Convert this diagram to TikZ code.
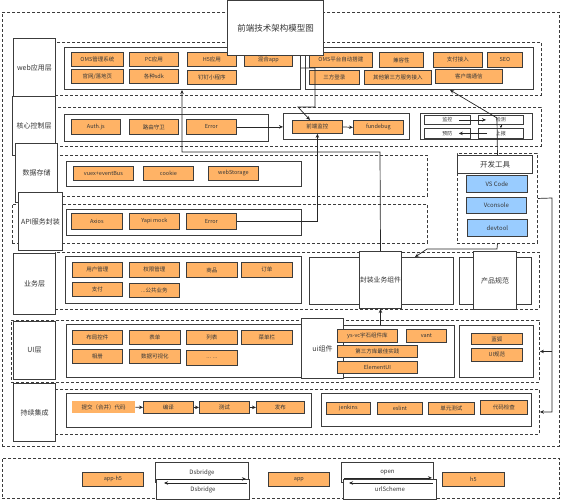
\documentclass[tikz,border=0pt]{standalone}
\usepackage{fontspec}
\setmainfont{Noto Sans CJK SC}
\usetikzlibrary{arrows.meta,calc}
\definecolor{orgc}{RGB}{255,179,102}
\definecolor{bluc}{RGB}{153,204,255}
\definecolor{txt}{RGB}{55,55,55}
\definecolor{edge}{RGB}{60,60,60}
\newcommand\mybox[7]{\node[#1,anchor=north west,minimum width={#5-#3},minimum height={#6-#4}] (#2) at (#3,#4) {#7};}
\tikzset{
 lay/.style={draw=edge, line width=0.9pt, dash pattern=on 3pt off 2pt, inner sep=0pt},
 inbox/.style={draw=edge, line width=1pt, fill=white, inner sep=0pt},
 lbl/.style={draw=edge, line width=1pt, fill=white, inner sep=0pt, font=\fontsize{7}{8}\selectfont, text=txt},
 ttl/.style={draw=edge, line width=1pt, fill=white, inner sep=0pt, font=\fontsize{8.5}{10}\selectfont, text=txt},
 org/.style={draw=edge, line width=0.8pt, fill=orgc, inner sep=0pt, font=\fontsize{5.5}{6.5}\selectfont, text=txt},
 orgn/.style={fill=orgc, inner sep=0pt, font=\fontsize{5.5}{6.5}\selectfont, text=txt},
 blu/.style={draw=edge, line width=0.8pt, fill=bluc, inner sep=0pt, font=\fontsize{6}{7}\selectfont, text=txt},
 wsm/.style={draw=edge, line width=0.8pt, fill=white, inner sep=0pt, font=\fontsize{5}{6}\selectfont, text=txt},
 wbr/.style={draw=edge, line width=0.9pt, fill=white, inner sep=0pt, font=\fontsize{6}{7}\selectfont, text=txt},
 conn/.style={draw=black!85, line width=0.7pt},
 arr/.style={conn, -{Stealth[length=4pt,width=3.5pt]}},
}
\begin{document}
\begin{tikzpicture}[x=1pt,y=-1pt]
\useasboundingbox (0,0) rectangle (561,500);
% outer frames
\mybox{lay}{outer}{2}{12}{559}{446}{}
\mybox{lay}{Lbot}{2}{458}{559}{498}{}
% layer frames
\mybox{lay}{Lweb}{55}{42}{541}{95}{}
\mybox{lay}{Lcore}{55}{107}{541}{146}{}
\mybox{lay}{Ldata}{57}{155}{427}{196}{}
\mybox{lay}{Lapi}{12}{204}{427}{243}{}
\mybox{lay}{Lyw}{55}{252}{539}{309}{}
\mybox{lay}{Lui}{11}{320}{539}{382}{}
\mybox{lay}{Lci}{55}{389}{539}{434}{}
% row labels
\mybox{lbl}{lweb}{13}{38}{55}{96}{web应用层}
\mybox{lbl}{lcore}{12}{96}{55}{155}{核心控制层}
\mybox{lbl}{ldata}{15}{143}{57}{202}{数据存储}
\mybox{lbl}{lapi}{18}{192}{62}{250}{API服务封装}
\mybox{lbl}{lyw}{13}{253}{55}{314}{业务层}
\mybox{lbl}{lui}{13}{321}{55}{379}{UI层}
\mybox{lbl}{lci}{13}{383}{55}{441}{持续集成}
% web layer
\mybox{inbox}{wL}{64}{47}{300}{89}{}
\mybox{inbox}{wR}{305}{47}{533}{89}{}
\mybox{org}{w1}{71}{52}{123}{66}{OMS管理系统}
\mybox{org}{w2}{129}{52}{178}{66}{PC应用}
\mybox{org}{w3}{187}{52}{236}{66}{H5应用}
\mybox{org}{w4}{244}{52}{292}{66}{混合app}
\mybox{org}{w5}{71}{69}{123}{83}{官网/落地页}
\mybox{org}{w6}{129}{69}{178}{83}{各种sdk}
\mybox{org}{w7}{187}{70}{236}{84}{钉钉小程序}
\mybox{org}{w8}{309}{52}{372}{67}{OMS平台自动搭建}
\mybox{org}{w9}{379}{52}{423}{67}{兼容性}
\mybox{org}{w10}{433}{52}{482}{67}{支付接入}
\mybox{org}{w11}{487}{52}{522}{67}{SEO}
\mybox{org}{w12}{309}{70}{359}{84}{三方登录}
\mybox{org}{w13}{364}{70}{431}{84}{其他第三方服务接入}
\mybox{org}{khd}{435}{69}{502}{83}{客户端通信}
% core layer
\mybox{inbox}{cL}{64}{114}{268}{141}{}
\mybox{org}{auth}{71}{119}{120}{134}{Auth.js}
\mybox{org}{lys}{129}{119}{178}{134}{路由守卫}
\mybox{org}{cerr}{186}{119}{236}{134}{Error}
\mybox{inbox}{cM}{283}{113}{409}{139}{}
\mybox{org}{qdjk}{292}{120}{342}{133}{前端监控}
\mybox{org}{fdb}{353}{120}{403}{134}{fundebug}
\mybox{inbox}{cR}{420}{113}{532}{139}{}
\mybox{wsm}{jk}{424}{115}{470}{124}{监控}
\mybox{wsm}{jc}{478}{115}{523}{124}{检测}
\mybox{wsm}{yf}{424}{128}{470}{138}{预防}
\mybox{wsm}{sb}{478}{128}{523}{138}{上报}
% data layer
\mybox{inbox}{dL}{66}{161}{301}{186}{}
\mybox{org}{d1}{73}{166}{133}{180}{vuex+eventBus}
\mybox{org}{d2}{143}{166}{193}{180}{cookie}
\mybox{org}{d3}{208}{166}{258}{180}{webStorage}
% api layer
\mybox{inbox}{aL}{66}{209}{301}{235}{}
\mybox{org}{axios}{71}{213}{122}{229}{Axios}
\mybox{org}{yapi}{129}{213}{179}{229}{Yapi mock}
\mybox{org}{aerr}{186}{213}{236}{229}{Error}
% business layer
\mybox{inbox}{yL}{65}{256}{301}{303}{}
\mybox{org}{y1}{72}{262}{122}{277}{用户管理}
\mybox{org}{y2}{129}{262}{179}{277}{权限管理}
\mybox{org}{y3}{186}{262}{237}{277}{商品}
\mybox{org}{y4}{241}{262}{292}{277}{订单}
\mybox{org}{y5}{72}{282}{122}{296}{支付}
\mybox{org}{y6}{129}{283}{179}{297}{...公共业务}
\mybox{inbox}{yM}{309}{257}{453}{304}{}
\mybox{lbl}{fzyw}{359}{251}{401}{308}{\fontsize{6.8}{8}\selectfont 封装业务组件}
\mybox{inbox}{yR}{459}{257}{531}{304}{}
\mybox{lbl}{cpgf}{473}{251}{516}{309}{产品规范}
% ui layer
\mybox{inbox}{uL}{66}{324}{301}{377}{}
\mybox{org}{u1}{72}{330}{122}{344}{布局控件}
\mybox{org}{u2}{129}{330}{180}{344}{表单}
\mybox{org}{u3}{186}{330}{237}{344}{列表}
\mybox{org}{u4}{241}{330}{292}{344}{菜单栏}
\mybox{org}{u5}{72}{349}{122}{363}{相册}
\mybox{org}{u6}{129}{349}{180}{363}{数据可视化}
\mybox{org}{u7}{186}{350}{237}{365}{... ...}
\mybox{inbox}{uM}{330}{325}{454}{377}{}
\mybox{lbl}{uizj}{301}{318}{343}{378}{ui组件}
\mybox{org}{u8}{337}{329}{397}{342}{ys-vc宇石组件库}
\mybox{org}{u9}{406}{329}{446}{342}{vant}
\mybox{org}{u10}{337}{345}{417}{357}{第三方库最佳实践}
\mybox{org}{u11}{337}{361}{417}{373}{ElementUI}
\mybox{inbox}{uR}{459}{325}{533}{377}{}
\mybox{org}{u12}{471}{333}{522}{344}{蓝狐}
\mybox{org}{u13}{471}{348}{522}{361}{UI规范}
% ci layer
\mybox{inbox}{ciL}{66}{393}{311}{427}{}
\mybox{orgn}{tj}{72}{401}{135}{413}{提交（合并）代码}
\mybox{org}{by}{143}{401}{193}{413}{编译}
\mybox{org}{cs}{199}{401}{249}{413}{测试}
\mybox{org}{fb}{256}{401}{304}{413}{发布}
\mybox{inbox}{ciR}{321}{393}{531}{426}{}
\mybox{org}{jen}{326}{402}{370}{414}{jenkins}
\mybox{org}{esl}{377}{402}{422}{414}{eslint}
\mybox{org}{dy}{428}{402}{474}{414}{单元测试}
\mybox{org}{dm}{480}{400}{527}{414}{代码检查}
% dev tools
\mybox{lay}{dev}{457}{153}{537}{243}{}
\mybox{lbl}{kfgj}{457}{155}{532}{173}{\fontsize{7.5}{9}\selectfont 开发工具}
\mybox{blu}{vs}{466}{175}{527}{192}{VS Code}
\mybox{blu}{vc}{466}{197}{526}{213}{Vconsole}
\mybox{blu}{dt}{467}{219}{527}{236}{devtool}
% bottom row
\mybox{org}{apph5}{82}{472}{143}{486}{app-h5}
\mybox{wbr}{ds1}{155}{462}{248}{482}{Dsbridge}
\mybox{wbr}{ds2}{156}{479}{249}{499}{Dsbridge}
\mybox{org}{app}{268}{472}{329}{486}{app}
\mybox{wbr}{op}{341}{462}{433}{482}{open}
\mybox{wbr}{url}{343}{479}{436}{499}{urlScheme}
\mybox{org}{h5}{442}{472}{504}{486}{h5}
% connectors
\draw[arr] (cerr.east) -- (cerr.east -| cM.west);
\draw[arr] (qdjk.east) -- (fdb.west);
\coordinate (c3a) at (315,68);
\coordinate (c3b) at (315,107);
\coordinate (c3c) at (298,107);
\draw[arr] (wL.east |- c3a) -- (c3a) -- (c3b) -- (c3c) -- ($(qdjk.north west)+(18,0)$);
\draw[arr] (aerr.east) -| (qdjk.south);
\coordinate (c5a) at (380,152);
\coordinate (c5b) at (182,152);
\draw[arr] (fzyw.north) -- (c5a) -- (c5b) -- (c5b |- wL.south);
\draw[arr] (fzyw.south |- uM.north) -- (fzyw.south);
\coordinate (c7a) at (497,249);
\coordinate (c7b) at (427,249);
\draw[arr] (dev.south) -- (c7a) -- (c7b) -- ($(yM.north west)+(106,0)$);
\coordinate (c8) at (497,118);
\draw[arr] (kfgj.north -| dev.south) -- (c8) -- ($(wR.south west)+(145,0)$);
\coordinate (rt) at (552,198);
\draw[arr] (dev.east) -- (rt) -- (rt |- Lci.east) -- (Lci.east);
\draw[arr] (rt |- Lui.east) -- (Lui.east);
\draw[arr] ($(jk.east)+(-12,0)$) -- ($(jc.west)+(8,0)$);
\draw[arr] ($(sb.west)+(9,0)$) -- ($(yf.east)+(-12,0)$);
\draw[conn, -{Stealth[length=2.5pt,width=2.5pt]}] (jc.south) -- (sb.north);
\draw[arr] (tj.east) -- (by.west);
\draw[arr] (by.east) -- (cs.west);
\draw[arr] (cs.east) -- (fb.west);
\draw[arr] ($(ds1.south west)+(3,-4)$) -- ($(ds1.south east)+(-3,-4)$);
\draw[arr] ($(ds2.north east)+(-3,4)$) -- ($(ds2.north west)+(8,4)$);
\draw[arr] ($(op.south west)+(3,-5)$) -- ($(op.south east)+(-2,-5)$);
\draw[arr] ($(url.north east)+(-4,4)$) -- ($(url.north west)+(6,4)$);
% title
\mybox{ttl}{title}{227}{0}{323}{55}{前端技术架构模型图}
\end{tikzpicture}
\end{document}
